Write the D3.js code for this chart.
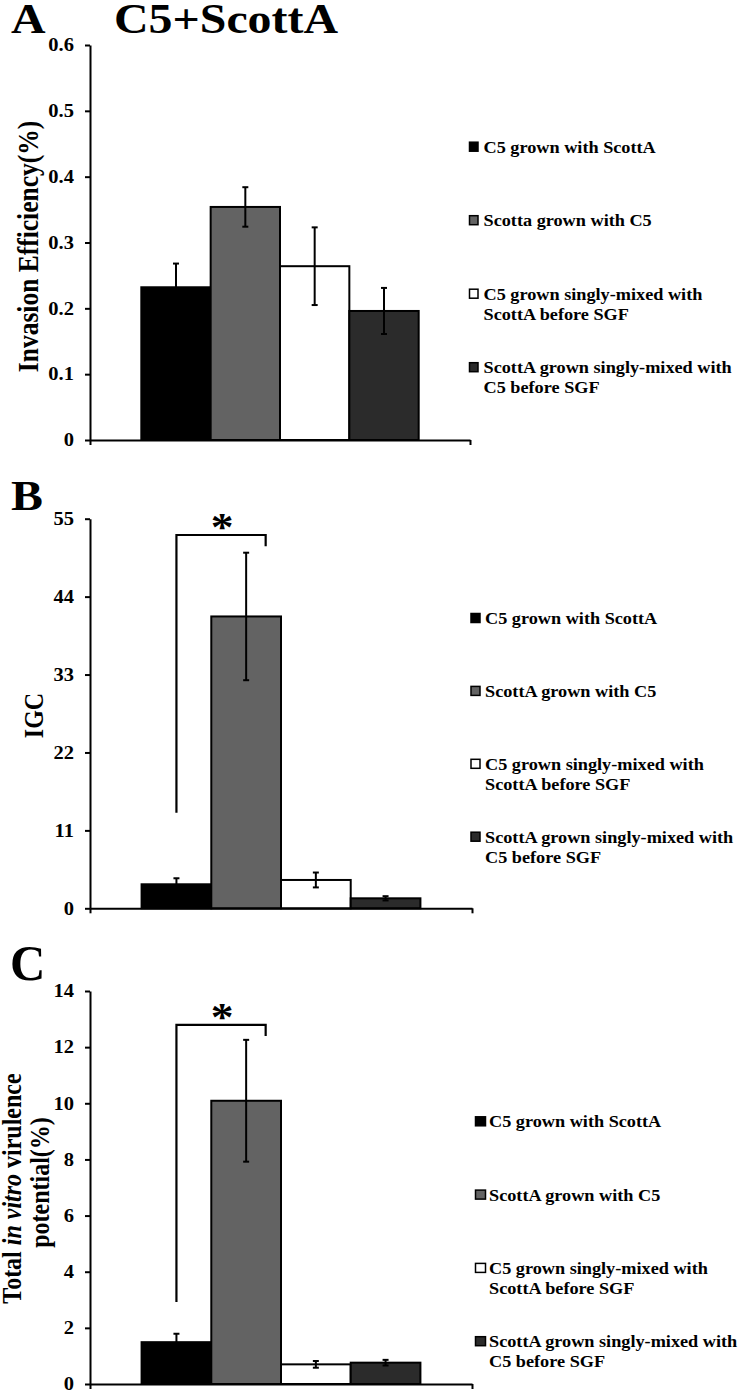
<!DOCTYPE html>
<html><head><meta charset="utf-8">
<script src="https://cdn.jsdelivr.net/npm/d3@7/dist/d3.min.js"></script>
<style>
body{margin:0;background:#fff}
svg{display:block}
text{font-family:"Liberation Serif","Times New Roman",serif;font-weight:bold;fill:#000}
</style>
</head><body>
<script>
// ---------- DATA ----------
const seriesKeys = ["c5WithScottA", "scottAWithC5", "c5SinglyMixed", "scottASinglyMixed"];
const seriesColors = ["#000000", "#636363", "#ffffff", "#2b2b2b"];

const legendLabelsA = [
  ["C5 grown with ScottA"],
  ["Scotta grown with C5"],
  ["C5 grown singly-mixed with", "ScottA before SGF"],
  ["ScottA grown singly-mixed with", "C5 before SGF"]
];
const legendLabelsBC = [
  ["C5 grown with ScottA"],
  ["ScottA grown with C5"],
  ["C5 grown singly-mixed with", "ScottA before SGF"],
  ["ScottA grown singly-mixed with", "C5 before SGF"]
];

const invasionValues = [0.232, 0.354, 0.264, 0.196];
const invasionErrors = [0.036, 0.030, 0.059, 0.035];
const invasionTicks = [0, 0.1, 0.2, 0.3, 0.4, 0.5, 0.6];

const igcValues = [3.39, 41.2, 4.0, 1.41];
const igcErrors = [0.85, 9.0, 1.05, 0.3];
const igcTicks = [0, 11, 22, 33, 44, 55];
const igcBracket = {top: 52.7, leftEnd: 13.5, rightEnd: 51.1, label: "*"};

const virulenceValues = [1.49, 10.09, 0.70, 0.76];
const virulenceErrors = [0.30, 2.17, 0.12, 0.10];
const virulenceTicks = [0, 2, 4, 6, 8, 10, 12, 14];
const virulenceBracket = {top: 12.79, leftEnd: 2.92, rightEnd: 12.4, label: "*"};

const panelLetters = ["A", "B", "C"];
const titleText = "C5+ScottA";

// ---------- LAYOUT ----------
const W = 741, H = 1391, SX = 1.14;
const FONT_TICK = 18, FONT_LEG = 16, FONT_YLAB = 24;

const svg = d3.select("body").append("svg").attr("width", W).attr("height", H);

function stext(g, x, y, str, size, anchor, rotate) {
  return g.append("text")
    .attr("transform", `translate(${x},${y}) scale(${SX},1)` + (rotate ? " rotate(-90)" : ""))
    .attr("text-anchor", anchor || "start")
    .style("font-size", size + "px")
    .text(str);
}

function panel(cfg) {
  const g = svg.append("g");
  const y = d3.scaleLinear().domain(cfg.domain).range([cfg.y0, cfg.y1]);
  const xOuter = d3.scaleBand().domain(["g"]).range([cfg.x0, cfg.x1]).paddingInner(0).paddingOuter(0.185);
  const xInner = d3.scaleBand().domain(seriesKeys).range([0, xOuter.bandwidth()]).padding(0);
  const bx = k => xOuter("g") + xInner(k);

  // bars
  g.selectAll("rect.bar").data(cfg.values).join("rect")
    .attr("class", "bar")
    .attr("x", (d, i) => bx(seriesKeys[i]))
    .attr("width", xInner.bandwidth())
    .attr("y", d => y(d))
    .attr("height", d => y(0) - y(d))
    .attr("fill", (d, i) => seriesColors[i])
    .attr("stroke", "#000").attr("stroke-width", 2);

  // error bars
  const eb = g.selectAll("g.err").data(cfg.values).join("g").attr("class", "err");
  const cx = i => bx(seriesKeys[i]) + xInner.bandwidth() / 2;
  eb.append("line")
    .attr("x1", (d, i) => cx(i)).attr("x2", (d, i) => cx(i))
    .attr("y1", (d, i) => y(d - cfg.errors[i])).attr("y2", (d, i) => y(d + cfg.errors[i]))
    .attr("stroke", "#000").attr("stroke-width", 2);
  [-1, 1].forEach(s => {
    eb.append("line")
      .attr("x1", (d, i) => cx(i) - 3).attr("x2", (d, i) => cx(i) + 3)
      .attr("y1", (d, i) => y(d + s * cfg.errors[i])).attr("y2", (d, i) => y(d + s * cfg.errors[i]))
      .attr("stroke", "#000").attr("stroke-width", 2);
  });

  // y axis
  const ya = g.append("g").attr("transform", `translate(${cfg.x0},0)`)
    .call(d3.axisLeft(y).tickValues(cfg.ticks).tickSize(5).tickSizeOuter(0).tickFormat(cfg.fmt));
  ya.select(".domain").attr("stroke-width", 2);
  ya.selectAll(".tick line").attr("stroke-width", 2);
  ya.selectAll(".tick text")
    .attr("x", -16 / SX).attr("transform", `scale(${SX},1)`)
    .style("font-size", FONT_TICK + "px").style("font-family", '"Liberation Serif","Times New Roman",serif')
    .style("font-weight", "bold");

  // x axis (category boundaries)
  const xl = d3.scaleLinear().domain([0, 1]).range([cfg.x0, cfg.x1]);
  const xa = g.append("g").attr("transform", `translate(0,${y(0)})`)
    .call(d3.axisBottom(xl).tickValues([0, 1]).tickSize(5).tickSizeOuter(0).tickFormat(""));
  xa.select(".domain").attr("stroke-width", 2);
  xa.selectAll(".tick line").attr("stroke-width", 2);

  // bracket
  if (cfg.bracket) {
    const b = cfg.bracket;
    const lx = cx(0);
    const rx = bx(seriesKeys[1]) + xInner.bandwidth() * 0.78;
    g.append("path")
      .attr("d", `M${lx},${y(b.leftEnd)}V${y(b.top)}H${rx}V${y(b.rightEnd)}`)
      .attr("fill", "none").attr("stroke", "#000").attr("stroke-width", 2.2);
    stext(g, (lx + rx) / 2 + 1, y(b.top) + 5, b.label, 40, "middle");
  }

  // y label
  if (cfg.ylabel) cfg.ylabel(g, (cfg.y0 + cfg.y1) / 2);

  // legend
  cfg.legend.forEach((lines, i) => {
    const base = cfg.legY + i * cfg.legStep;
    g.append("rect")
      .attr("x", cfg.legSqX).attr("y", base - 10.5)
      .attr("width", cfg.legSq).attr("height", 9)
      .attr("fill", seriesColors[i]).attr("stroke", "#000").attr("stroke-width", 1.5);
    lines.forEach((ln, j) => stext(g, cfg.legTextX, base + j * 20, ln, FONT_LEG, "start"));
  });
}

// Panel A
panel({
  domain: [0, 0.6], y0: 440, y1: 45, x0: 90, x1: 470,
  values: invasionValues, errors: invasionErrors, ticks: invasionTicks,
  fmt: d => d === 0 ? "0" : d3.format(".1f")(d),
  legend: legendLabelsA, legY: 152.7, legStep: 73.5, legSqX: 469.5, legSq: 8.5, legTextX: 483.5,
  ylabel: (g, cy) => stext(g, 38, cy + 4, "Invasion Efficiency(%)", 25.5, "middle", true)
});

// Panel B
panel({
  domain: [0, 55], y0: 908.3, y1: 518.7, x0: 90, x1: 472,
  values: igcValues, errors: igcErrors, ticks: igcTicks, fmt: d3.format("d"),
  bracket: igcBracket,
  legend: legendLabelsBC, legY: 624, legStep: 72.9, legSqX: 471, legSq: 9, legTextX: 485,
  ylabel: (g, cy) => stext(g, 43, cy + 2, "IGC", FONT_YLAB, "middle", true)
});

// Panel C
panel({
  domain: [0, 14], y0: 1384, y1: 991, x0: 90, x1: 472,
  values: virulenceValues, errors: virulenceErrors, ticks: virulenceTicks, fmt: d3.format("d"),
  bracket: virulenceBracket,
  legend: legendLabelsBC, legY: 1127.3, legStep: 73.3, legSqX: 475.5, legSq: 10, legTextX: 489,
  ylabel: (g, cy) => {
    const t = stext(g, 21, cy + 1, "", FONT_YLAB, "middle", true);
    t.append("tspan").text("Total ");
    t.append("tspan").style("font-style", "italic").text("in vitro");
    t.append("tspan").text(" virulence");
    stext(g, 21 + 28, cy - 5, "potential(%)", FONT_YLAB, "middle", true);
  }
});

// Panel letters and title
stext(svg, 11, 33, panelLetters[0], 42, "start");
stext(svg, 114, 33, titleText, 42, "start");
stext(svg, 11, 510, panelLetters[1], 42, "start");
svg.append("text").attr("transform", "translate(10,980) scale(0.98,1)")
  .style("font-size", "50px").text(panelLetters[2]);
</script>
</body></html>
